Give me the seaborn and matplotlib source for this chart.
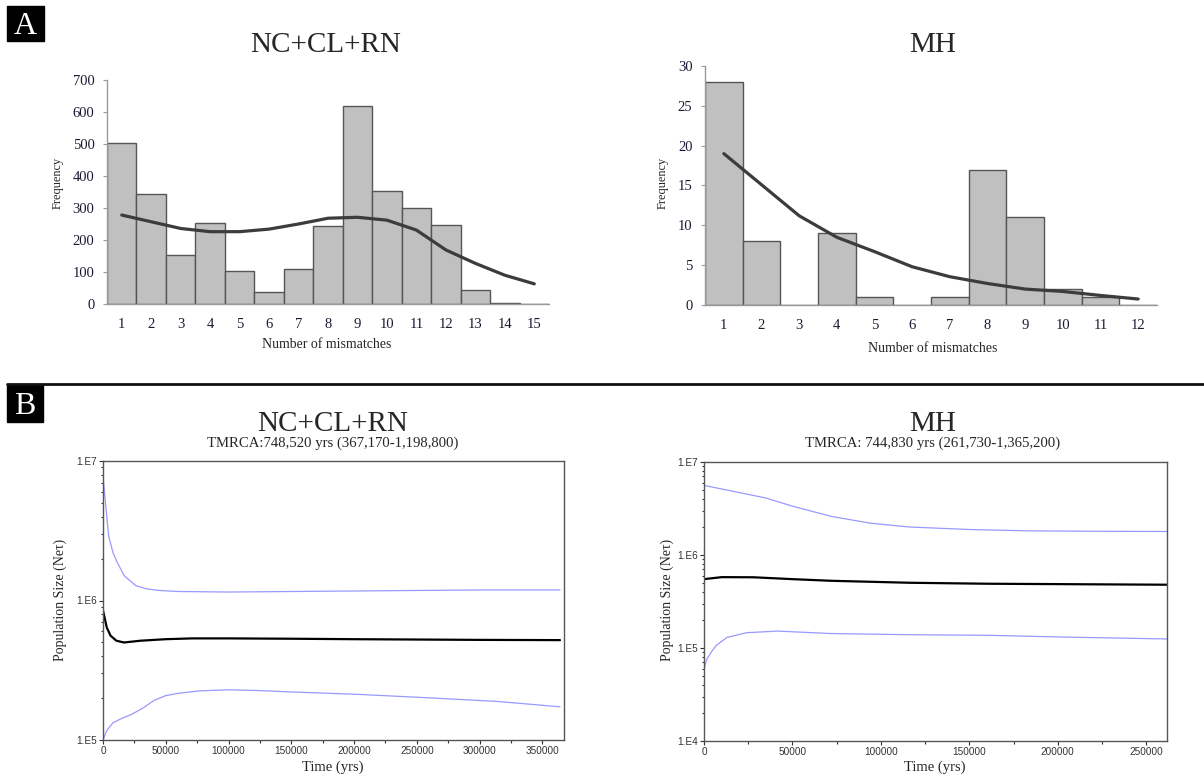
import numpy as np
import pandas as pd
import seaborn as sns
import matplotlib.pyplot as plt
from matplotlib.lines import Line2D
from matplotlib.patches import Rectangle
from matplotlib.ticker import FixedLocator, LogLocator, NullFormatter, MultipleLocator

W, H = 1204, 776

# A: mismatch distributions (observed bars, expected curve)
mismatch_ncr = list(range(1, 16))
observed_ncr = [502, 345, 153, 252, 102, 38, 108, 243, 620, 353, 299, 247, 44, 3, 0]
expected_ncr = [278, 257, 236, 226, 226, 234, 250, 268, 271, 262, 231, 169, 127, 90, 63]

mismatch_mh = list(range(1, 13))
observed_mh = [28, 8, 0, 9, 1, 0, 1, 17, 11, 2, 1, 0]
expected_mh = [19.0, 15.1, 11.2, 8.5, 6.7, 4.8, 3.55, 2.7, 2.0, 1.7, 1.2, 0.75]

# B: Bayesian skyline plots (median and 95% HPD limits)
t_ncr_med = [0, 3000, 6000, 10600, 16700, 30000, 50000, 71000, 100000, 150000, 200000, 250000, 300000, 364000]
med_ncr = [8.5e5, 6.4e5, 5.6e5, 5.15e5, 5.0e5, 5.15e5, 5.28e5, 5.35e5, 5.35e5, 5.32e5, 5.28e5, 5.25e5, 5.22e5, 5.2e5]
t_ncr_up = [0, 2000, 4500, 8000, 11000, 17000, 26000, 35000, 45000, 60000, 100000, 150000, 200000, 250000, 300000, 364000]
up_ncr = [7.7e6, 5.0e6, 2.9e6, 2.2e6, 1.9e6, 1.5e6, 1.28e6, 1.21e6, 1.18e6, 1.16e6, 1.15e6, 1.16e6, 1.17e6, 1.18e6, 1.19e6, 1.19e6]
t_ncr_lo = [0, 3000, 8000, 15000, 23000, 32000, 41000, 50000, 60000, 77000, 100000, 125000, 150000, 200000, 253000, 314000, 364000]
lo_ncr = [1.0e5, 1.17e5, 1.33e5, 1.43e5, 1.53e5, 1.7e5, 1.93e5, 2.08e5, 2.16e5, 2.25e5, 2.29e5, 2.26e5, 2.21e5, 2.13e5, 2.02e5, 1.89e5, 1.73e5]

t_mh_med = [0, 10000, 28000, 50000, 72000, 116000, 160000, 210000, 262000]
med_mh = [5.5e5, 5.78e5, 5.76e5, 5.5e5, 5.28e5, 5.03e5, 4.91e5, 4.85e5, 4.79e5]
t_mh_up = [0, 15000, 35000, 50000, 72000, 94000, 116000, 150000, 182000, 220000, 262000]
up_mh = [5.6e6, 4.9e6, 4.1e6, 3.35e6, 2.6e6, 2.2e6, 2.0e6, 1.88e6, 1.82e6, 1.8e6, 1.79e6]
t_mh_lo = [0, 1500, 4000, 7000, 13000, 24000, 41600, 72000, 116000, 160000, 204000, 262000]
lo_mh = [5.9e4, 7.5e4, 9.0e4, 1.07e5, 1.3e5, 1.46e5, 1.52e5, 1.43e5, 1.39e5, 1.37e5, 1.31e5, 1.25e5]

sns.set_style("white")
plt.rcParams['font.family'] = ['Liberation Serif', 'DejaVu Serif']

fig = plt.figure(figsize=(W / 100, H / 100), dpi=100)


def px_axes(x0, y0, x1, y1):
    return fig.add_axes([x0 / W, 1 - y1 / H, (x1 - x0) / W, (y1 - y0) / H])


def ftext(x, y, s, **kw):
    fig.text(x / W, 1 - y / H, s, **kw)


def panel_letter(x0, y0, x1, y1, letter):
    fig.add_artist(Rectangle((x0 / W, 1 - y1 / H), (x1 - x0) / W, (y1 - y0) / H,
                             transform=fig.transFigure, color='black'))
    ftext((x0 + x1) / 2, (y0 + y1) / 2 + 3, letter, color='white', fontsize=23,
          ha='center', va='center')


def mismatch_hist(ax, x, obs, exp, ymax, ystep):
    sns.barplot(x=x, y=obs, native_scale=True, width=1, color='#c0c0c0', saturation=1,
                edgecolor='#555555', linewidth=1, ax=ax)
    sns.lineplot(x=x, y=exp, color='#3c3c3c', lw=2.3, ax=ax)
    ax.set_xlim(0.5, len(x) + 0.5)
    ax.set_ylim(0, ymax)
    ax.set_xticks(x)
    ax.set_yticks(np.arange(0, ymax + 1, ystep))
    for s in ['top', 'right']:
        ax.spines[s].set_visible(False)
    for s in ['left', 'bottom']:
        ax.spines[s].set_color('#999999')
        ax.spines[s].set_linewidth(1)
    ax.tick_params(axis='x', length=0, pad=10, labelsize=10.5, labelcolor='#1a1a33')
    ax.tick_params(axis='y', length=3, width=0.8, color='#999999', pad=6,
                   labelsize=10.5, labelcolor='#1a1a33', left=True)
    ax.set_xlabel('')
    ax.set_ylabel('')
    ax.set_facecolor('white')


def skyline(ax, xmax, ymin, curves):
    for tx, vals, col, lw in curves:
        sns.lineplot(x=tx, y=vals, color=col, lw=lw, ax=ax)
    ax.set_yscale('log')
    ax.set_xlim(0, xmax)
    ax.set_ylim(ymin, 1e7)
    majors = [10 ** k for k in range(int(np.log10(ymin)), 8)]
    ax.yaxis.set_major_locator(FixedLocator(majors))
    ax.set_yticklabels(['1.E%d' % int(np.log10(m)) for m in majors])
    ax.yaxis.set_minor_locator(LogLocator(base=10, subs=np.arange(2, 10)))
    ax.yaxis.set_minor_formatter(NullFormatter())
    ax.xaxis.set_major_locator(MultipleLocator(50000))
    ax.xaxis.set_minor_locator(MultipleLocator(25000))
    for s in ax.spines.values():
        s.set_visible(True)
        s.set_color('#555555')
        s.set_linewidth(1)
    ax.tick_params(which='major', length=3, width=0.8, color='#333333', direction='out',
                   labelsize=7.2, labelcolor='#333333', pad=1.5, left=True, bottom=True)
    ax.tick_params(which='minor', length=1.8, width=0.8, color='#333333', direction='out',
                   left=True, bottom=True)
    for lab in ax.get_xticklabels() + ax.get_yticklabels():
        lab.set_family(['Liberation Sans', 'DejaVu Sans'])
    ax.set_xlabel('')
    ax.set_ylabel('')
    ax.set_facecolor('white')


# ---- Panel A ----
panel_letter(7, 6, 44, 41, 'A')

ax1 = px_axes(107, 80, 549, 304)
mismatch_hist(ax1, mismatch_ncr, observed_ncr, expected_ncr, 700, 100)
ftext(326, 45, 'NC+CL+RN', fontsize=21, ha='center', va='center')
ftext(327, 344, 'Number of mismatches', fontsize=10, ha='center', va='center')
ftext(58, 183, 'Frequency', fontsize=8.8, rotation=90, ha='center', va='center')

ax2 = px_axes(705, 66, 1157, 305)
mismatch_hist(ax2, mismatch_mh, observed_mh, expected_mh, 30, 5)
ftext(933, 45, 'MH', fontsize=21, ha='center', va='center')
ftext(933, 349, 'Number of mismatches', fontsize=10, ha='center', va='center')
ftext(663, 183, 'Frequency', fontsize=8.8, rotation=90, ha='center', va='center')

# separator between panels
fig.add_artist(Line2D([7 / W, 1], [1 - 384 / H, 1 - 384 / H], transform=fig.transFigure,
                      color='#111111', lw=2))

# ---- Panel B ----
panel_letter(7, 385, 43, 422, 'B')

ax3 = px_axes(103, 461, 564, 740)
skyline(ax3, 367170, 1e5, [
    (t_ncr_up, up_ncr, '#9999ff', 0.9),
    (t_ncr_lo, lo_ncr, '#9999ff', 0.9),
    (t_ncr_med, med_ncr, 'black', 1.6),
])
ftext(333, 424, 'NC+CL+RN', fontsize=21, ha='center', va='center')
ftext(333, 443, 'TMRCA:748,520 yrs (367,170-1,198,800)', fontsize=10.6, ha='center', va='center')
ftext(333, 767, 'Time (yrs)', fontsize=10.5, ha='center', va='center')
ftext(60, 600, 'Population Size (Neτ)', fontsize=10, rotation=90, ha='center', va='center')

ax4 = px_axes(704, 462, 1167, 741)
skyline(ax4, 261730, 1e4, [
    (t_mh_up, up_mh, '#9999ff', 0.9),
    (t_mh_lo, lo_mh, '#9999ff', 0.9),
    (t_mh_med, med_mh, 'black', 1.6),
])
ftext(933, 424, 'MH', fontsize=21, ha='center', va='center')
ftext(933, 443, 'TMRCA: 744,830 yrs (261,730-1,365,200)', fontsize=10.6, ha='center', va='center')
ftext(935, 767, 'Time (yrs)', fontsize=10.5, ha='center', va='center')
ftext(667, 600, 'Population Size (Neτ)', fontsize=10, rotation=90, ha='center', va='center')

fig.savefig('out.png', dpi=100, facecolor='white')
